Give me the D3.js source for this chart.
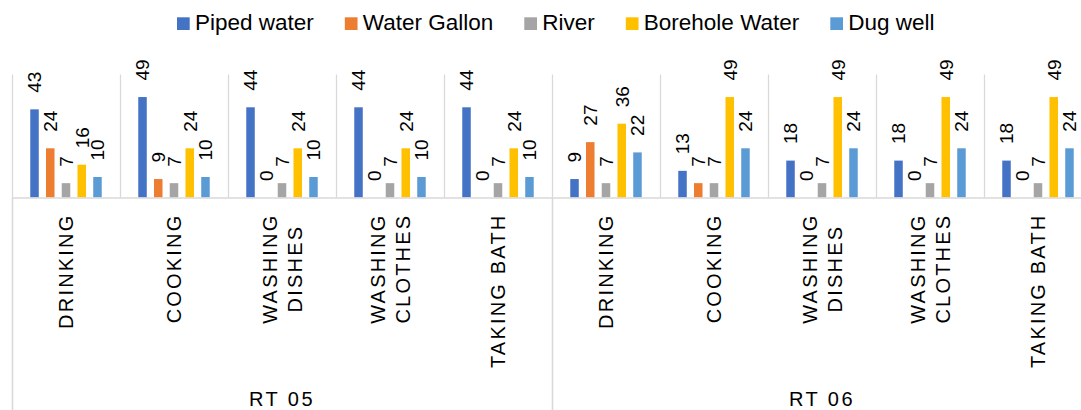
<!DOCTYPE html>
<html>
<head>
<meta charset="utf-8">
<script src="https://cdn.jsdelivr.net/npm/d3@7"></script>
<style>
  body { margin: 0; background: #fff; }
  svg { display: block; font-family: "Liberation Sans", Arial, sans-serif; }
</style>
</head>
<body>
<svg id="chart" width="1081" height="410"></svg>
<script>
// data
const groups = ["RT 05", "RT 06"];
const activities = ["DRINKING", "COOKING", "WASHING DISHES", "WASHING CLOTHES", "TAKING BATH"];
const activityLines = [["DRINKING"], ["COOKING"], ["WASHING", "DISHES"], ["WASHING", "CLOTHES"], ["TAKING BATH"]];
const seriesNames = ["Piped water", "Water Gallon", "River", "Borehole Water", "Dug well"];
const seriesColors = ["#4472C4", "#ED7D31", "#A5A5A5", "#FFC000", "#5B9BD5"];

const pipedWater    = [43, 49, 44, 44, 44,  9, 13, 18, 18, 18];
const waterGallon   = [24,  9,  0,  0,  0, 27,  7,  0,  0,  0];
const river         = [ 7,  7,  7,  7,  7,  7,  7,  7,  7,  7];
const boreholeWater = [16, 24, 24, 24, 24, 36, 49, 49, 49, 49];
const dugWell       = [10, 10, 10, 10, 10, 22, 24, 24, 24, 24];

const seriesValues = [pipedWater, waterGallon, river, boreholeWater, dugWell];

// one row per category (group + activity)
const rows = [];
groups.forEach((g, gi) => {
  activities.forEach((a, ai) => {
    const i = gi * activities.length + ai;
    rows.push({
      key: g + "|" + a,
      group: g,
      lines: activityLines[ai],
      values: seriesNames.map((s, si) => ({ name: s, value: seriesValues[si][i], color: seriesColors[si] }))
    });
  });
});

const svg = d3.select("#chart");
const plotLeft = 12, plotRight = 1092; // the original is cropped on the right
const baseY = 197.5, topY = 74.5;

const x0 = d3.scaleBand().domain(rows.map(d => d.key)).range([plotLeft, plotRight]);
const x1 = d3.scaleBand().domain(seriesNames).range([0, x0.bandwidth()])
  .paddingInner(0.46).paddingOuter(1.16);
const y = d3.scaleLinear().domain([0, 60]).range([baseY, topY]);
const xg = d3.scaleBand().domain(groups).range([plotLeft, plotRight]);

const grid = "#D9D9D9";

// vertical gridlines between categories
svg.append("g").selectAll("line")
  .data(rows.map(d => d.key))
  .enter().append("line")
  .attr("x1", d => x0(d) + 0.5).attr("x2", d => x0(d) + 0.5)
  .attr("y1", y(60)).attr("y2", baseY)
  .attr("stroke", grid).attr("stroke-width", 1.3);

// group dividers below the axis
svg.append("g").selectAll("line")
  .data(groups)
  .enter().append("line")
  .attr("x1", d => xg(d) + 0.5).attr("x2", d => xg(d) + 0.5)
  .attr("y1", baseY).attr("y2", 410)
  .attr("stroke", grid).attr("stroke-width", 1.6);

// bars
const cat = svg.append("g").selectAll("g")
  .data(rows)
  .enter().append("g")
  .attr("transform", d => "translate(" + x0(d.key) + ",0)");

cat.selectAll("rect")
  .data(d => d.values)
  .enter().append("rect")
  .attr("x", d => x1(d.name))
  .attr("width", x1.bandwidth())
  .attr("y", d => y(d.value))
  .attr("height", d => baseY - y(d.value))
  .attr("fill", d => d.color);

// rotated value labels
cat.selectAll("text")
  .data(d => d.values)
  .enter().append("text")
  .attr("transform", d => "translate(" + (x1(d.name) + x1.bandwidth() / 2) + "," + (y(d.value) - 16.5) + ") rotate(-90)")
  .attr("dy", "0.36em")
  .attr("font-size", 19)
  .attr("fill", "#000")
  .text(d => d.value);

// x axis line
svg.append("line")
  .attr("x1", plotLeft).attr("x2", 1081)
  .attr("y1", baseY + 0.5).attr("y2", baseY + 0.5)
  .attr("stroke", grid).attr("stroke-width", 1.6);

// category labels, top aligned just under the axis
const catLabels = svg.append("g").selectAll("text")
  .data(rows)
  .enter().append("text")
  .attr("font-size", 20)
  .attr("letter-spacing", 2.2)
  .attr("fill", "#000")
  .attr("text-anchor", "middle");

catLabels.each(function (d) {
  const t = d3.select(this);
  const n = d.lines.length;
  d.lines.forEach((line, li) => {
    t.append("tspan").attr("x", 0).attr("y", (li - (n - 1) / 2) * 25).attr("dy", "0.36em").text(line);
  });
  let maxLen = 0;
  t.selectAll("tspan").each(function () { maxLen = Math.max(maxLen, this.getComputedTextLength()); });
  const cx = x0(d.key) + x0.bandwidth() / 2;
  t.attr("transform", "translate(" + cx + "," + (213.5 + maxLen / 2) + ") rotate(-90)");
});

// group labels
svg.append("g").selectAll("text")
  .data(groups)
  .enter().append("text")
  .attr("x", d => xg(d) + xg.bandwidth() / 2)
  .attr("y", 405.5)
  .attr("text-anchor", "middle")
  .attr("font-size", 20)
  .attr("letter-spacing", 2.5)
  .attr("fill", "#000")
  .text(d => d);

// legend
const legend = svg.append("g");
let lx = 177;
seriesNames.forEach((s, i) => {
  legend.append("rect")
    .attr("x", lx).attr("y", 17.3)
    .attr("width", 12.7).attr("height", 12.7)
    .attr("fill", seriesColors[i]);
  const t = legend.append("text")
    .attr("x", lx + 18).attr("y", 30)
    .attr("font-size", 22.5)
    .attr("fill", "#000")
    .text(s);
  lx += 18 + t.node().getComputedTextLength() + 31;
});
</script>
</body>
</html>
